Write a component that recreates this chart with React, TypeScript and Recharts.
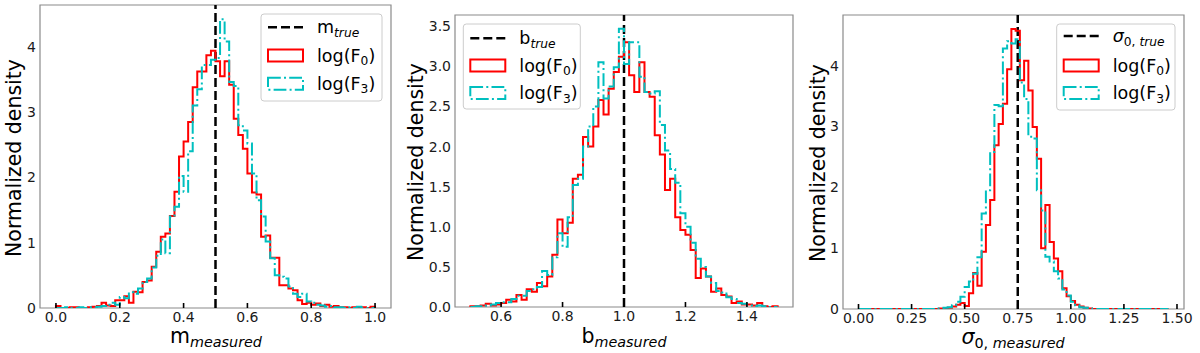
import React from "react";
import { LineChart, Line, XAxis, YAxis, ReferenceLine, ReferenceArea } from "recharts";

const FONT = "'DejaVu Sans', sans-serif";
const RED = "#ff0000";
const CYAN = "#00bfbf";
const SPINE = "#8a8a8a";
const DASHDOT = "12.8 3.2 2 3.2";

// ---- panel 1: slope m, 70 bins on [0, 1]
const mRange = [0, 1];
const mTrue = 0.5;
const mLogF0 = [
  0.03, 0.0, 0.0, 0.01, 0.01, 0.0, 0.0, 0.01, 0.02, 0.03,
  0.08, 0.04, 0.03, 0.12, 0.12, 0.18, 0.08, 0.25, 0.24, 0.4,
  0.42, 0.63, 0.86, 1.09, 1.14, 1.41, 1.78, 2.32, 2.55, 2.85,
  3.38, 3.62, 3.62, 3.87, 3.94, 3.78, 3.55, 3.78, 3.42, 2.9,
  2.65, 2.44, 2.06, 1.77, 1.74, 1.09, 1.11, 0.77, 0.77, 0.35,
  0.35, 0.3, 0.27, 0.12, 0.06, 0.08, 0.05, 0.07, 0.03, 0.05,
  0.02, 0.03, 0.01, 0.01, 0.0, 0.01, 0.0, 0.01, 0.0, 0.02,
];
const mLogF3 = [
  0.0, 0.0, 0.01, 0.0, 0.0, 0.01, 0.0, 0.01, 0.01, 0.02,
  0.03, 0.05, 0.08, 0.05, 0.17, 0.15, 0.24, 0.22, 0.3, 0.4,
  0.45, 0.62, 0.8, 1.05, 0.84, 1.4, 1.55, 2.02, 1.78, 2.4,
  3.1, 3.35, 3.72, 3.72, 3.8, 3.83, 4.42, 4.08, 3.46, 3.4,
  2.8, 2.72, 2.52, 2.06, 1.65, 1.4, 1.02, 0.76, 0.5, 0.48,
  0.45, 0.33, 0.22, 0.17, 0.22, 0.1, 0.08, 0.05, 0.04, 0.02,
  0.03, 0.01, 0.01, 0.0, 0.01, 0.0, 0.02, 0.0, 0.0, 0.0,
];
const mXTicks = [0, 0.2, 0.4, 0.6, 0.8, 1.0];
const mYTicks = [0, 1, 2, 3, 4];

// ---- panel 2: intercept b, 60 bins on [0.5, 1.5]
const bRange = [0.5, 1.5];
const bTrue = 1.0;
const bLogF0 = [
  0.01, 0.01, 0.02, 0.04, 0.02, 0.03, 0.05, 0.09, 0.07, 0.15,
  0.09, 0.22, 0.19, 0.3, 0.26, 0.38, 0.65, 1.09, 0.92, 1.05,
  1.6, 1.65, 2.12, 2.0, 2.25, 2.58, 2.4, 2.72, 2.93, 3.12,
  3.3, 2.89, 2.68, 3.05, 2.68, 2.62, 2.14, 1.9, 1.46, 1.6,
  1.12, 0.96, 0.9, 0.71, 0.36, 0.48, 0.38, 0.19, 0.23, 0.15,
  0.13, 0.05, 0.07, 0.03, 0.03, 0.02, 0.05, 0.01, 0.0, 0.01,
];
const bLogF3 = [
  0.0, 0.01, 0.01, 0.02, 0.03, 0.05, 0.06, 0.06, 0.1, 0.14,
  0.14, 0.2, 0.22, 0.25, 0.45, 0.4, 0.62, 0.92, 0.75, 1.12,
  1.52, 1.6, 2.0, 2.25, 2.5, 3.05, 2.6, 2.75, 2.99, 3.47,
  3.03, 3.3, 3.3, 2.87, 2.68, 2.66, 2.69, 2.27, 1.95, 1.72,
  1.55, 1.17, 1.0, 0.8, 0.6, 0.5, 0.38, 0.3, 0.2, 0.18,
  0.12, 0.1, 0.05, 0.04, 0.02, 0.01, 0.02, 0.01, 0.0, 0.0,
];
const bXTicks = [0.6, 0.8, 1.0, 1.2, 1.4];
const bYTicks = [0, 0.5, 1, 1.5, 2, 2.5, 3, 3.5];

// ---- panel 3: sigma_0, 73 bins on [0, 1.46]
const sRange = [0, 1.46];
const sTrue = 0.75;
const sLogF0 = [
  0, 0, 0, 0, 0, 0, 0, 0, 0, 0,
  0, 0, 0, 0, 0, 0, 0, 0, 0, 0.01,
  0.01, 0.02, 0.04, 0.07, 0.1, 0.05, 0.26, 0.59, 0.38, 0.94,
  1.38, 1.79, 2.69, 3.04, 3.37, 3.94, 4.6, 4.57, 3.76, 4.08,
  3.59, 2.99, 2.47, 1.0, 1.71, 1.1, 0.83, 0.62, 0.34, 0.21,
  0.13, 0.07, 0.04, 0.02, 0.01, 0, 0, 0, 0, 0,
  0, 0, 0, 0, 0, 0, 0, 0, 0, 0,
  0, 0, 0,
];
const sLogF3 = [
  0, 0, 0, 0, 0, 0, 0, 0, 0, 0,
  0, 0, 0, 0, 0, 0, 0, 0, 0.01, 0.01,
  0.02, 0.03, 0.06, 0.12, 0.2, 0.36, 0.45, 0.58, 0.85, 1.57,
  1.95, 2.58, 3.35, 3.33, 4.28, 4.4, 4.36, 4.43, 3.72, 3.45,
  2.83, 2.8, 1.95, 1.62, 0.86, 0.78, 0.62, 0.5, 0.32, 0.22,
  0.12, 0.06, 0.03, 0.02, 0.01, 0, 0, 0, 0, 0,
  0, 0, 0, 0, 0, 0, 0, 0, 0, 0,
  0, 0, 0,
];
const sXTicks = [0, 0.25, 0.5, 0.75, 1.0, 1.25, 1.5];
const sYTicks = [0, 1, 2, 3, 4];

// outline of a step histogram: rises at the first edge, falls at the last one
function stepRows(range: number[], f0: number[], f3: number[]) {
  const n = f0.length;
  const w = (range[1] - range[0]) / n;
  const rows = [{ x: range[0], f0: 0, f3: 0 }];
  for (let i = 0; i < n; i++) rows.push({ x: range[0] + i * w, f0: f0[i], f3: f3[i] });
  rows.push({ x: range[1], f0: f0[n - 1], f3: f3[n - 1] });
  rows.push({ x: range[1], f0: 0, f3: 0 });
  return rows;
}

type Part = { t: string; sub?: boolean; it?: boolean };

function MathText({ x, y, size, anchor = "start", parts }: { x: number; y: number; size: number; anchor?: string; parts: Part[] }) {
  let level = 0;
  return (
    <text x={x} y={y} fontSize={size} fontFamily={FONT} textAnchor={anchor as any} fill="#000">
      {parts.map((p, i) => {
        const want = p.sub ? 1 : 0;
        const dy = (want - level) * size * 0.2;
        level = want;
        return (
          <tspan key={i} dy={dy || undefined} fontSize={p.sub ? size * 0.7 : size} fontStyle={p.it ? "italic" : "normal"}>
            {p.t}
          </tspan>
        );
      })}
    </text>
  );
}

const F0: Part[] = [{ t: "log(F" }, { t: "0", sub: true }, { t: ")" }];
const F3: Part[] = [{ t: "log(F" }, { t: "3", sub: true }, { t: ")" }];

function LegendBox({ x, y, w, h, rows, truth }: { x: number; y: number; w: number; h: number; rows: number[]; truth: Part[] }) {
  const hx = x + 7;
  const tx = x + 56;
  const fs = 17.5;
  return (
    <g>
      <rect x={x} y={y} width={w} height={h} rx={3} fill="#fff" fillOpacity={0.8} stroke="#cccccc" strokeWidth={1} />
      <line x1={hx} x2={hx + 35} y1={rows[0]} y2={rows[0]} stroke="#000" strokeWidth={2.5} strokeDasharray="9 4" />
      <MathText x={tx} y={rows[0] + 6} size={fs} parts={truth} />
      <rect x={hx} y={rows[1] - 6} width={35} height={12} fill="none" stroke={RED} strokeWidth={2} />
      <MathText x={tx} y={rows[1] + 6} size={fs} parts={F0} />
      <rect x={hx} y={rows[2] - 6} width={35} height={12} fill="none" stroke={CYAN} strokeWidth={2} strokeDasharray={DASHDOT} />
      <MathText x={tx} y={rows[2] + 6} size={fs} parts={F3} />
    </g>
  );
}

// bottom ticks point into the plot, labels sit under the axis
function makeXTick(digits: number) {
  return (props: any) => {
    const { x, y, payload } = props;
    return (
      <g>
        <line x1={x} x2={x} y1={y} y2={y - 5} stroke="#000" strokeWidth={1.6} />
        <text x={x} y={y + 14.3} textAnchor="middle" fontSize={14} fontFamily={FONT} fill="#1a1a1a">
          {Number(payload.value).toFixed(digits)}
        </text>
      </g>
    );
  };
}

function makeYTick(digits: number) {
  return (props: any) => {
    const { x, y, payload } = props;
    return (
      <text x={x - 4} y={y + 5} textAnchor="end" fontSize={14} fontFamily={FONT} fill="#1a1a1a">
        {Number(payload.value).toFixed(digits)}
      </text>
    );
  };
}

type PanelProps = {
  left: number;
  plot: { top: number; right: number; bottom: number; left: number };
  range: number[];
  f0: number[];
  f3: number[];
  truth: number;
  xDomain: number[];
  yDomain: number[];
  xTicks: number[];
  yTicks: number[];
  xDigits: number;
  yDigits: number;
  yLabelAt: number[];
  xLabel: Part[];
  xLabelAt: number[];
  legend: { x: number; y: number; w: number; h: number; rows: number[]; truth: Part[] };
};

const AXIS_H = 30;
const AXIS_W = 30;

function Panel(p: PanelProps) {
  const rows = stepRows(p.range, p.f0, p.f3);
  // plot box edges (px inside this 400x353 panel) -> chart margins
  const margin = {
    top: p.plot.top,
    left: p.plot.left - AXIS_W,
    right: 400 - p.plot.right,
    bottom: 353 - p.plot.bottom - AXIS_H,
  };
  return (
    <div style={{ position: "absolute", left: p.left, top: 0, width: 400, height: 353 }}>
      <LineChart width={400} height={353} data={rows} margin={margin}>
        <XAxis
          type="number"
          dataKey="x"
          domain={p.xDomain}
          ticks={p.xTicks}
          interval={0}
          allowDataOverflow
          height={AXIS_H}
          tick={makeXTick(p.xDigits)}
          tickSize={0}
          tickMargin={0}
          tickLine={false}
          axisLine={false}
        />
        <YAxis
          type="number"
          domain={p.yDomain}
          ticks={p.yTicks}
          interval={0}
          allowDataOverflow
          width={AXIS_W}
          tick={makeYTick(p.yDigits)}
          tickSize={0}
          tickMargin={0}
          tickLine={false}
          axisLine={false}
        />
        <ReferenceArea x1={p.xDomain[0]} x2={p.xDomain[1]} y1={p.yDomain[0]} y2={p.yDomain[1]} fill="none" stroke={SPINE} strokeWidth={1.2} />
        <ReferenceLine x={p.truth} stroke="#000" strokeWidth={2.5} strokeDasharray="9 4" />
        <Line dataKey="f0" type="stepAfter" stroke={RED} strokeWidth={2} dot={false} activeDot={false} isAnimationActive={false} />
        <Line dataKey="f3" type="stepAfter" stroke={CYAN} strokeWidth={2} strokeDasharray={DASHDOT} dot={false} activeDot={false} isAnimationActive={false} />
      </LineChart>
      <svg width={400} height={353} style={{ position: "absolute", left: 0, top: 0, pointerEvents: "none" }}>
        <text
          x={p.yLabelAt[0]}
          y={p.yLabelAt[1]}
          transform={`rotate(-90, ${p.yLabelAt[0]}, ${p.yLabelAt[1]})`}
          textAnchor="middle"
          fontSize={20.5}
          fontFamily={FONT}
          fill="#000"
        >
          Normalized density
        </text>
        <MathText x={p.xLabelAt[0]} y={p.xLabelAt[1]} size={20.5} anchor="middle" parts={p.xLabel} />
        <LegendBox {...p.legend} />
      </svg>
    </div>
  );
}

export default function App() {
  return (
    <div style={{ position: "absolute", left: 0, top: 0, width: 1200, height: 353, background: "#fff", overflow: "hidden" }}>
      <Panel
        left={0}
        plot={{ top: 5, right: 391, bottom: 308, left: 40 }}
        range={mRange}
        f0={mLogF0}
        f3={mLogF3}
        truth={mTrue}
        xDomain={[-0.05, 1.05]}
        yDomain={[0, 4.64]}
        xTicks={mXTicks}
        yTicks={mYTicks}
        xDigits={1}
        yDigits={0}
        yLabelAt={[20.7, 158]}
        xLabel={[{ t: "m" }, { t: "measured", sub: true, it: true }]}
        xLabelAt={[216, 343]}
        legend={{ x: 261, y: 14, w: 121, h: 87, rows: [27.3, 55.5, 83.7], truth: [{ t: "m" }, { t: "true", sub: true, it: true }] }}
      />
      <Panel
        left={400}
        plot={{ top: 15, right: 393, bottom: 307, left: 55 }}
        range={bRange}
        f0={bLogF0}
        f3={bLogF3}
        truth={bTrue}
        xDomain={[0.45, 1.55]}
        yDomain={[0, 3.64]}
        xTicks={bXTicks}
        yTicks={bYTicks}
        xDigits={1}
        yDigits={1}
        yLabelAt={[22.7, 162]}
        xLabel={[{ t: "b" }, { t: "measured", sub: true, it: true }]}
        xLabelAt={[224, 343]}
        legend={{ x: 63.3, y: 24, w: 117, h: 85, rows: [38.3, 65.5, 93], truth: [{ t: "b" }, { t: "true", sub: true, it: true }] }}
      />
      <Panel
        left={800}
        plot={{ top: 15, right: 384, bottom: 309, left: 43 }}
        range={sRange}
        f0={sLogF0}
        f3={sLogF3}
        truth={sTrue}
        xDomain={[-0.073, 1.533]}
        yDomain={[0, 4.83]}
        xTicks={sXTicks}
        yTicks={sYTicks}
        xDigits={2}
        yDigits={0}
        yLabelAt={[25, 163]}
        xLabel={[{ t: "σ", it: true }, { t: "0, ", sub: true }, { t: "measured", sub: true, it: true }]}
        xLabelAt={[213, 344]}
        legend={{ x: 256.7, y: 24, w: 118.3, h: 86, rows: [36, 65.5, 93], truth: [{ t: "σ", it: true }, { t: "0, ", sub: true }, { t: "true", sub: true, it: true }] }}
      />
    </div>
  );
}
